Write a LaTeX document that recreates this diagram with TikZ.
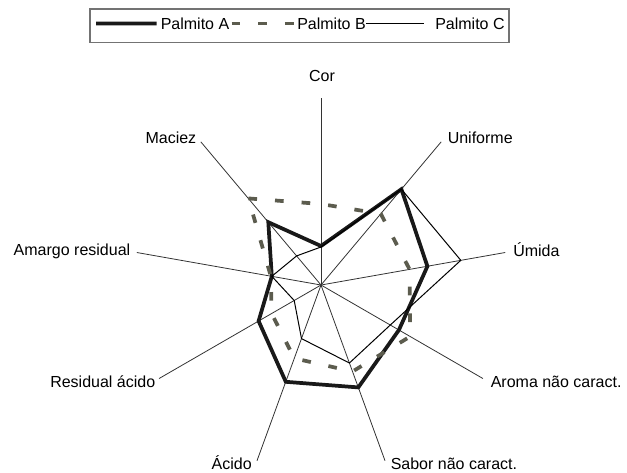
\documentclass[tikz,border=0pt]{standalone}
\usepackage{fontspec}
\setmainfont{Liberation Sans}
\definecolor{palmB}{RGB}{92,92,78}

\begin{document}
\begin{tikzpicture}[x=0.75pt,y=0.75pt,yscale=-1,xscale=1,
  axline/.style={draw=black!80,line width=0.6pt},
  serA/.style={draw=black!90,line width=2.8pt},
  serB/.style={draw=palmB,line width=2.8pt,dash pattern=on 6.5pt off 13.5pt},
  serC/.style={draw=black,line width=0.75pt},
  lbl/.style={inner sep=0pt,font=\fontsize{12}{14}\selectfont}]
\useasboundingbox (0,0) rectangle (627,472);

%Shape: Legend box
\draw [draw=black!55,line width=0.9pt] (90,9) rectangle (509,42.5) ;
% Text Node
\node [lbl,anchor=base west] (legA) at (160.5,29.3) {Palmito A};
% Text Node
\node [lbl,anchor=base west] (legB) at (297,29.3) {Palmito B};
% Text Node
\node [lbl,anchor=base west] (legC) at (435,29.3) {Palmito C};
\coordinate (legA0) at (96,23.6);
\draw [serA] (legA0) -- ([xshift=-3pt]legA.west) ;
\draw [serB] ([xshift=1.5pt]legA.east) -- (legB.west) ;
\draw [serC] (legB.east) -- ([xshift=-8pt]legC.west) ;

%Axes
\coordinate (c) at (321,285);
\coordinate (cor) at (321,98);
\coordinate (unif) at (441.2,141.8);
\coordinate (umid) at (505.2,252.5);
\coordinate (arom) at (482.9,378.5);
\coordinate (sab) at (385,460.7);
\coordinate (acid) at (257,460.7);
\coordinate (resid) at (159.1,378.5);
\coordinate (amar) at (136.8,252.5);
\coordinate (mac) at (200.8,141.8);
\draw [axline] (c) -- (cor) ;
\draw [axline] (c) -- (unif) ;
\draw [axline] (c) -- (umid) ;
\draw [axline] (c) -- (arom) ;
\draw [axline] (c) -- (sab) ;
\draw [axline] (c) -- (acid) ;
\draw [axline] (c) -- (resid) ;
\draw [axline] (c) -- (amar) ;
\draw [axline] (c) -- (mac) ;

%Shape: Palmito A
\draw [serA] (321,246) -- (401.4,189.2) -- (427.4,266.3) -- (398.9,330) -- (358.3,387.4) -- (285.8,381.8) -- (258.6,321) -- (271.8,276.3) -- (268.3,222.2) -- cycle ;
%Shape: Palmito B
\draw [serB] (248.4,198.4) -- (321,204) -- (380.8,213.8) -- (409.6,269.4) -- (410.2,336.5) -- (352.5,371.5) -- (294.3,358.3) -- (271.6,313.5) -- (270.8,276.1) -- cycle ;
%Shape: Palmito C
\draw [serC] (321,247) -- (401.4,189.2) -- (460.8,260.3) -- (390.3,325) -- (349.4,363) -- (301.5,338.6) -- (294.2,300.5) -- (271.8,276.3) -- (296.6,255.9) -- cycle ;

% Text Node
\node [lbl,anchor=base] (lcor) at (322,81.7) {Cor};
% Text Node
\node [lbl,anchor=base west] (lunif) at (447.5,143.3) {Uniforme};
% Text Node
\node [lbl,anchor=base west] (lumid) at (513,256.7) {Úmida};
% Text Node
\node [lbl,anchor=base west] (larom) at (490.5,387.7) {Aroma não caract.};
% Text Node
\node [lbl,anchor=base west] (lsab) at (390.5,469.3) {Sabor não caract.};
% Text Node
\node [lbl,anchor=base east] (lacid) at (252,469.3) {Ácido};
% Text Node
\node [lbl,anchor=base east] (lresid) at (155.5,387.3) {Residual ácido};
% Text Node
\node [lbl,anchor=base east] (lamar) at (130.5,255.7) {Amargo residual};
% Text Node
\node [lbl,anchor=base east] (lmac) at (196.5,143.3) {Maciez};
\end{tikzpicture}
\end{document}
